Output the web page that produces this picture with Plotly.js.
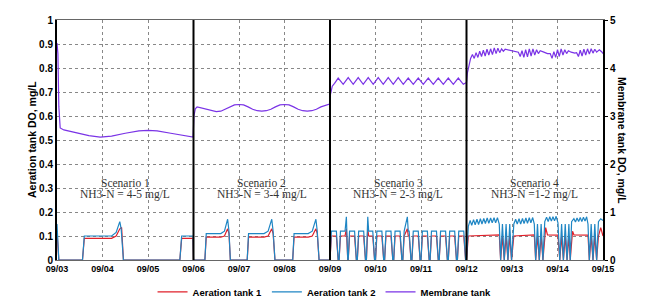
<!DOCTYPE html>
<html>
<head>
<meta charset="utf-8">
<script src="https://cdn.plot.ly/plotly-3.0.1.min.js"></script>
<style>html,body{margin:0;padding:0;background:#fff;}#chart{width:667px;height:308px;}</style>
</head>
<body>
<div id="chart"></div>
<script>
// ---- Data (x = days since 09/03 00:00) ----
const tickLabels = ['09/03','09/04','09/05','09/06','09/07','09/08','09/09','09/10','09/11','09/12','09/13','09/14','09/15'];
const scenarioNames = ['Scenario 1','Scenario 2','Scenario 3','Scenario 4'];
const scenarioNH3 = ['NH3-N = 4-5 mg/L','NH3-N = 3-4 mg/L','NH3-N = 2-3 mg/L','NH3-N =1-2 mg/L'];
const scenarioStart = [0, 3, 6, 9];
const scenarioEnd = [3, 6, 9, 12];

// Aeration tank 1 (left axis)
const tank1T = [
 0.00,0.04,0.56,0.60,1.20,1.30,1.38,1.42,1.46,2.70,2.74,2.99,3.00,
 3.25,3.28,3.60,3.68,3.75,3.78,3.81,4.18,4.21,4.55,4.64,4.72,4.75,4.79,5.18,5.21,5.52,5.61,5.69,5.72,5.76,6.00,
 6.03,6.14,6.18,6.20,6.23,6.33,6.36,6.39,6.40,6.43,6.54,6.58,6.60,6.63,6.74,6.78,6.80,6.83,6.85,6.94,6.98,
 7.00,7.03,7.14,7.18,7.20,7.23,7.34,7.38,7.40,7.43,7.54,7.58,7.60,7.63,7.70,7.72,7.74,7.78,7.80,7.83,7.94,7.98,
 8.00,8.03,8.14,8.18,8.20,8.23,8.34,8.38,8.40,8.43,8.54,8.58,8.60,8.63,8.74,8.78,8.80,8.83,8.94,8.98,9.00,
 9.04,9.72,9.75,9.79,9.83,9.87,9.91,9.95,9.99,10.04,10.49,10.52,10.56,10.60,10.64,10.68,10.72,10.74,10.78,
 11.01,11.05,11.09,11.13,11.17,11.21,11.25,11.28,11.31,11.33,11.36,11.67,11.70,11.74,11.78,11.82,11.86,11.90,11.95,11.98,12.00
];
const tank1 = [
 0.12,0,0,0.09,0.09,0.10,0.13,0.135,0,0,0.09,0.09,0,
 0,0.095,0.095,0.10,0.13,0.11,0,0,0.095,0.095,0.10,0.13,0.11,0,0,0.095,0.095,0.10,0.13,0.11,0,0,
 0.10,0.10,0,0,0.10,0.10,0.13,0,0,0.10,0.10,0,0,0.10,0.10,0,0,0.13,0.10,0.10,0,
 0,0.10,0.10,0,0,0.10,0.10,0,0,0.10,0.10,0,0,0.10,0.13,0.10,0.10,0,0,0.10,0.10,0,
 0,0.10,0.10,0,0,0.10,0.10,0,0,0.10,0.10,0,0,0.10,0.10,0,0,0.10,0.10,0,0,
 0.10,0.105,0,0.10,0,0.10,0,0.10,0,0.10,0.105,0,0.10,0,0.10,0,0.10,0.135,0.105,
 0.104,0,0.10,0,0.10,0,0.10,0,0.10,0.12,0.105,0.104,0,0.10,0,0.10,0,0.10,0.135,0.105,0.10
];

// Aeration tank 2 (left axis)
const tank2T = [
 0.00,0.04,0.56,0.60,1.20,1.30,1.38,1.41,1.46,2.70,2.74,2.99,3.00,
 3.25,3.28,3.60,3.68,3.75,3.78,3.81,4.18,4.21,4.55,4.64,4.72,4.75,4.79,5.18,5.21,5.52,5.61,5.69,5.72,5.76,6.00,
 6.03,6.14,6.18,6.20,6.23,6.33,6.36,6.39,6.40,6.43,6.54,6.58,6.60,6.63,6.74,6.78,6.80,6.83,6.85,6.94,6.98,
 7.00,7.03,7.14,7.18,7.20,7.23,7.34,7.38,7.40,7.43,7.54,7.58,7.60,7.63,7.70,7.72,7.74,7.78,7.80,7.83,7.94,7.98,
 8.00,8.03,8.14,8.18,8.20,8.23,8.34,8.38,8.40,8.43,8.54,8.58,8.60,8.63,8.74,8.78,8.80,8.83,8.94,8.98,9.00,
 9.04,9.08,9.115,9.155,9.19,9.23,9.265,9.305,9.34,9.38,9.415,9.455,9.49,9.53,9.565,9.605,9.64,9.68,9.72,
 9.75,9.79,9.83,9.87,9.91,9.95,9.99,
 10.04,10.08,10.115,10.155,10.19,10.23,10.265,10.305,10.34,10.38,10.415,10.455,10.49,
 10.52,10.56,10.60,10.64,10.68,
 10.72,10.76,10.795,10.83,10.865,10.90,10.935,10.97,11.01,
 11.05,11.09,11.13,11.17,11.21,11.25,11.28,
 11.31,11.36,11.395,11.43,11.465,11.50,11.535,11.57,11.605,11.64,11.67,
 11.70,11.74,11.78,11.82,11.86,11.90,11.95,12.00
];
const tank2 = [
 0.15,0,0,0.10,0.10,0.115,0.16,0.13,0,0,0.10,0.10,0,
 0,0.11,0.11,0.12,0.17,0.12,0,0,0.11,0.11,0.12,0.17,0.12,0,0,0.11,0.11,0.12,0.17,0.12,0,0,
 0.12,0.12,0,0,0.12,0.12,0.18,0,0,0.12,0.12,0,0,0.12,0.12,0,0,0.18,0.12,0.12,0,
 0,0.12,0.12,0,0,0.12,0.12,0,0,0.12,0.12,0,0,0.12,0.18,0.12,0.12,0,0,0.12,0.12,0,
 0,0.12,0.12,0,0,0.12,0.12,0,0,0.12,0.12,0,0,0.12,0.12,0,0,0.12,0.12,0,0,
 0.14,0.165,0.145,0.168,0.147,0.17,0.148,0.172,0.15,0.173,0.152,0.175,0.153,0.175,0.155,0.176,0.155,0.176,0.15,
 0,0.15,0,0.15,0,0.15,0,
 0.15,0.17,0.15,0.172,0.15,0.173,0.152,0.175,0.153,0.176,0.155,0.177,0.15,
 0,0.15,0,0.15,0,
 0.16,0.178,0.16,0.18,0.162,0.18,0.163,0.182,0.155,
 0,0.15,0,0.15,0,0.15,0,
 0.16,0.172,0.158,0.175,0.16,0.177,0.16,0.178,0.162,0.18,0.15,
 0,0.15,0,0.15,0,0.16,0.172,0.165
];

// Membrane tank (right axis)
const memT = [
 0.00,0.02,0.04,0.07,0.15,0.30,0.50,0.70,0.95,1.20,1.50,1.80,2.00,2.20,2.50,2.80,2.99,
 3.01,3.04,3.08,3.20,3.30,3.40,3.50,3.60,3.70,3.80,3.90,4.00,4.10,4.20,4.30,4.40,4.50,4.60,4.70,4.80,4.90,5.00,5.10,5.20,5.30,5.40,5.50,5.60,5.70,5.80,5.90,5.99,
 6.01,6.05,6.10,6.18,6.29,6.40,6.51,6.62,6.73,6.84,6.95,7.06,7.17,7.28,7.39,7.50,7.61,7.72,7.83,7.94,8.05,8.16,8.27,8.38,8.49,8.60,8.71,8.82,8.93,9.00,
 9.02,9.06,9.09,9.13,9.17,9.21,9.25,9.29,9.33,9.37,9.41,9.45,9.49,9.53,9.57,9.61,9.65,9.69,9.73,9.77,9.81,9.85,
 9.95,10.05,10.14,
 10.18,10.22,10.26,10.30,10.34,10.38,10.42,10.46,10.50,10.54,10.58,10.62,
 10.70,10.78,10.84,
 10.88,10.92,10.96,11.00,11.04,11.08,11.12,11.16,11.20,11.24,
 11.30,11.38,11.42,
 11.46,11.50,11.54,11.58,11.62,11.66,11.70,11.74,11.78,11.82,11.86,11.92,11.97,12.00
];
const membrane = [
 4.52,4.30,3.20,2.75,2.71,2.68,2.63,2.59,2.56,2.58,2.64,2.69,2.70,2.69,2.64,2.59,2.56,
 3.00,3.15,3.19,3.16,3.125,3.10,3.09,3.10,3.14,3.19,3.23,3.24,3.23,3.19,3.14,3.11,3.10,3.11,3.14,3.19,3.23,3.24,3.23,3.19,3.14,3.11,3.10,3.11,3.14,3.19,3.23,3.25,
 3.45,3.62,3.68,3.79,3.66,3.80,3.66,3.80,3.66,3.80,3.66,3.80,3.66,3.80,3.66,3.80,3.66,3.79,3.66,3.79,3.66,3.79,3.66,3.79,3.66,3.79,3.66,3.79,3.66,3.70,
 3.90,4.10,4.20,4.28,4.20,4.32,4.22,4.35,4.24,4.37,4.25,4.39,4.27,4.40,4.28,4.42,4.30,4.41,4.32,4.40,4.35,4.39,
 4.37,4.34,4.33,
 4.24,4.36,4.22,4.38,4.23,4.40,4.25,4.40,4.27,4.38,4.30,4.36,
 4.33,4.30,4.30,
 4.20,4.34,4.22,4.38,4.24,4.40,4.27,4.38,4.30,4.36,
 4.33,4.31,4.32,
 4.24,4.37,4.25,4.39,4.27,4.40,4.29,4.40,4.31,4.39,4.33,4.38,4.34,4.30
];

// ---- Chart ----
const boldFont = {family: 'Arial, Liberation Sans, sans-serif', color: '#000', weight: 'bold'};
const traces = [
 {x: tank1T, y: tank1, name: 'Aeration tank 1', type: 'scatter', mode: 'lines', line: {color: '#e0202a', width: 1.2}, yaxis: 'y'},
 {x: tank2T, y: tank2, name: 'Aeration tank 2', type: 'scatter', mode: 'lines', line: {color: '#1f86c4', width: 1.2}, yaxis: 'y'},
 {x: memT, y: membrane, name: 'Membrane tank', type: 'scatter', mode: 'lines', line: {color: '#7a33e6', width: 1.2}, yaxis: 'y2'}
];

const shapes = scenarioStart.slice(1).map(b => ({
 type: 'line', xref: 'x', yref: 'paper', x0: b, x1: b, y0: 0, y1: 1,
 line: {color: '#000', width: 2}
}));

const serif = {family: 'Liberation Serif, Times New Roman, serif', size: 11.5, color: '#333'};
const annotations = [];
scenarioNames.forEach((s, i) => {
 const mid = (scenarioStart[i] + scenarioEnd[i]) / 2;
 annotations.push({x: mid, y: 0.322, xref: 'x', yref: 'y', text: s, showarrow: false, font: serif, xanchor: 'center', yanchor: 'middle'});
 annotations.push({x: mid, y: 0.272, xref: 'x', yref: 'y', text: scenarioNH3[i], showarrow: false, font: serif, xanchor: 'center', yanchor: 'middle'});
});
const titleFont = Object.assign({}, boldFont, {size: 10.5});
annotations.push({
 x: 0, xref: 'paper', xshift: -25, y: 0.5, yref: 'paper', text: 'Aeration tank DO, mg/L', textangle: -90,
 showarrow: false, font: titleFont, xanchor: 'center', yanchor: 'middle'
});
annotations.push({
 x: 1, xref: 'paper', xshift: 19, y: 0.5, yref: 'paper', text: 'Membrane tank DO, mg/L', textangle: 90,
 showarrow: false, font: titleFont, xanchor: 'center', yanchor: 'middle'
});

const layout = {
 width: 667, height: 308,
 margin: {l: 57, r: 64, t: 20, b: 48, autoexpand: false},
 paper_bgcolor: '#fff', plot_bgcolor: '#fff',
 showlegend: true,
 legend: {orientation: 'h', x: 0.49, xanchor: 'center', y: -0.133, yanchor: 'middle', font: Object.assign({}, boldFont, {size: 9.5}), itemwidth: 30, tracegroupgap: 0},
 xaxis: {
  range: [0, 12], tickvals: tickLabels.map((_, i) => i), ticktext: tickLabels,
  showgrid: true, gridcolor: '#888', griddash: 'dot', gridwidth: 1,
  showline: true, linecolor: '#666', linewidth: 1, mirror: true, zeroline: false,
  ticks: '', tickfont: Object.assign({}, boldFont, {size: 9})
 },
 yaxis: {
  range: [0, 1], dtick: 0.1, showgrid: true, gridcolor: '#888', griddash: 'dot', gridwidth: 1,
  showline: true, linecolor: '#000', linewidth: 2, zeroline: false, ticks: '',
  tickfont: Object.assign({}, boldFont, {size: 10})
 },
 yaxis2: {
  range: [0, 5], dtick: 1, overlaying: 'y', side: 'right', showgrid: false,
  showline: true, linecolor: '#000', linewidth: 2, zeroline: false,
  ticks: 'outside', ticklen: 3, tickcolor: '#000', tickwidth: 1,
  tickfont: Object.assign({}, boldFont, {size: 10})
 },
 shapes: shapes,
 annotations: annotations
};

Plotly.newPlot('chart', traces, layout, {displayModeBar: false, staticPlot: true});
</script>
</body>
</html>
